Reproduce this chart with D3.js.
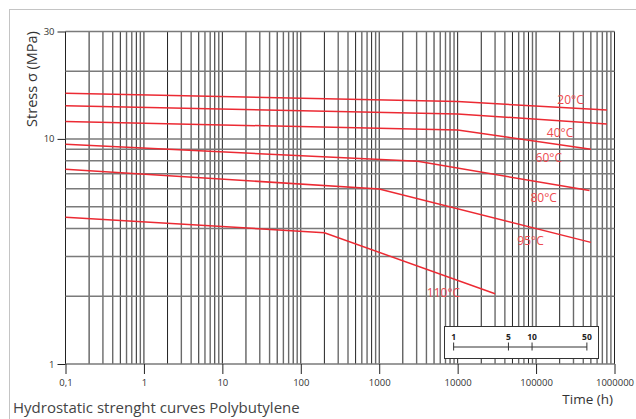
<!DOCTYPE html>
<html>
<head>
<meta charset="utf-8">
<script src="https://cdn.jsdelivr.net/npm/d3@7"></script>
<style>
  body { margin: 0; background: #fff; }
  svg { display: block; font-family: "Open Sans", sans-serif; }
</style>
</head>
<body>
<div id="chartArea"></div>
<script>
// curves: [hours, stress MPa]
let temps = ['20°C', '40°C', '60°C', '80°C', '95°C', '110°C'];
let curve20 = [[0.1, 15.95], [10000, 14.65], [800000, 13.45]];
let curve40 = [[0.1, 14.05], [10000, 12.9], [800000, 11.65]];
let curve60 = [[0.1, 11.95], [10000, 10.95], [500000, 9.0]];
let curve80 = [[0.1, 9.47], [3100, 7.95], [480000, 5.9]];
let curve95 = [[0.1, 7.33], [1000, 5.99], [500000, 3.47]];
let curve110 = [[0.1, 4.49], [200, 3.83], [30000, 2.05]];
let curves = [curve20, curve40, curve60, curve80, curve95, curve110];
// where each temperature label sits [hours, MPa]
let labelSpots = [[275000, 14.9], [202000, 10.7], [145000, 8.29], [125000, 5.51], [85000, 3.52], [6600, 2.08]];

let xTickValues = [0.1, 1, 10, 100, 1000, 10000, 100000, 1000000];
let xTickLabels = ['0,1', '1', '10', '100', '1000', '10000', '100000', '1000000'];
let yTickValues = [1, 10, 30];
let yTickLabels = ['1', '10', '30'];
let yGridValues = [1, 2, 3, 4, 5, 6, 7, 8, 9, 10, 20, 30];
let yearValues = [1, 5, 10, 50];
let yearLabels = ['1', '5', '10', '50'];
let hoursPerYear = 8760;

let width = 636, height = 419;
let red = '#ec2a33';

let svg = d3.select('#chartArea').append('svg')
    .attr('width', width)
    .attr('height', height);

// outer frame
svg.append('rect')
    .attr('x', 9.5).attr('y', 9.5)
    .attr('width', 700).attr('height', 500)
    .attr('fill', 'none')
    .attr('stroke', '#c4c4c4');

let xScale = d3.scaleLog().domain([0.1, 1000000]).range([65.5, 614.5]);
let yScale = d3.scaleLog().domain([1, 30]).range([364, 31.5]);

// vertical grid 1..9 per decade
let xGridValues = [];
for (let k = -1; k < 6; k++) {
    for (let m = 1; m < 10; m++) xGridValues.push(m * Math.pow(10, k));
}
xGridValues.push(1000000);

let grid = svg.append('g');
grid.selectAll('line.v')
    .data(xGridValues)
    .enter().append('line')
    .attr('class', 'v')
    .attr('x1', d => xScale(d)).attr('x2', d => xScale(d))
    .attr('y1', yScale(30)).attr('y2', yScale(1))
    .attr('stroke', (d, i) => (i % 9 === 0 || i % 3 === 1) ? '#222' : '#6a6a6a')
    .attr('stroke-width', (d, i) => (i % 9 === 0 || i % 3 === 1) ? 1 : 1.4);

grid.selectAll('line.h')
    .data(yGridValues)
    .enter().append('line')
    .attr('class', 'h')
    .attr('x1', xScale(0.1)).attr('x2', xScale(1000000))
    .attr('y1', d => yScale(d)).attr('y2', d => yScale(d))
    .attr('stroke', '#7a7a7a')
    .attr('stroke-width', 1.5);

// axes
let xAxis = svg.append('g')
    .attr('transform', 'translate(0,' + yScale(1) + ')')
    .call(d3.axisBottom(xScale)
        .tickValues(xTickValues)
        .tickSize(10)
        .tickFormat((d, i) => xTickLabels[i]));
xAxis.select('.domain').remove();
xAxis.selectAll('line').attr('stroke', '#222');
xAxis.selectAll('text')
    .attr('fill', '#333')
    .attr('font-size', '9.5px')
    .attr('font-family', '"Open Sans", sans-serif')
    .attr('dy', '0.95em');

let yAxis = svg.append('g')
    .attr('transform', 'translate(' + xScale(0.1) + ',0)')
    .call(d3.axisLeft(yScale)
        .tickValues(yTickValues)
        .tickSize(8)
        .tickFormat((d, i) => yTickLabels[i]));
yAxis.select('.domain').remove();
yAxis.selectAll('line').attr('stroke', '#222');
yAxis.selectAll('text')
    .attr('fill', '#333')
    .attr('font-size', '9.5px')
    .attr('font-family', '"Open Sans", sans-serif')
    .attr('x', -11);

// curves
let line = d3.line()
    .x(d => xScale(d[0]))
    .y(d => yScale(d[1]));

svg.append('g').selectAll('path')
    .data(curves)
    .enter().append('path')
    .attr('d', d => line(d))
    .attr('fill', 'none')
    .attr('stroke', red)
    .attr('stroke-width', 1.5);

svg.append('g').selectAll('text')
    .data(temps)
    .enter().append('text')
    .attr('x', (d, i) => xScale(labelSpots[i][0]))
    .attr('y', (d, i) => yScale(labelSpots[i][1]))
    .attr('text-anchor', 'middle')
    .attr('dominant-baseline', 'central')
    .attr('fill', '#ee4a4f')
    .attr('font-size', '12px')
    .text(d => d);

// years legend box
let yearScale = d3.scaleLog()
    .domain([1, 50])
    .range([xScale(hoursPerYear), xScale(50 * hoursPerYear)]);

svg.append('rect')
    .attr('x', 444.5).attr('y', 326.5)
    .attr('width', 154).attr('height', 32)
    .attr('fill', '#fff')
    .attr('stroke', '#333');

let yearAxis = svg.append('g')
    .attr('transform', 'translate(0,346.5)')
    .call(d3.axisBottom(yearScale)
        .tickValues(yearValues)
        .tickSize(0)
        .tickFormat((d, i) => yearLabels[i]));
yearAxis.select('.domain').attr('stroke', '#333');
yearAxis.selectAll('.tick').append('line')
    .attr('y1', -4).attr('y2', 4)
    .attr('stroke', '#333');
yearAxis.selectAll('text')
    .attr('y', -7)
    .attr('dy', 0)
    .attr('fill', '#222')
    .attr('font-size', '8.5px')
    .attr('font-weight', 'bold')
    .attr('font-family', '"Open Sans", sans-serif');

// titles
svg.append('text')
    .attr('transform', 'translate(37,79) rotate(-90)')
    .attr('text-anchor', 'middle')
    .attr('fill', '#333')
    .attr('font-size', '14.5px')
    .text('Stress  σ (MPa)');

svg.append('text')
    .attr('x', 613).attr('y', 404)
    .attr('text-anchor', 'end')
    .attr('fill', '#333')
    .attr('font-size', '13.5px')
    .text('Time (h)');

svg.append('text')
    .attr('x', 13).attr('y', 413)
    .attr('fill', '#444')
    .attr('font-size', '15px')
    .text('Hydrostatic strenght curves Polybutylene');
</script>
</body>
</html>
